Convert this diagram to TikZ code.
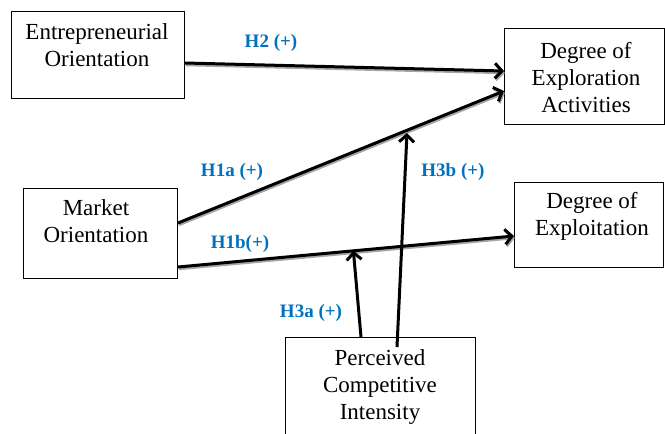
\documentclass[tikz,border=0pt]{standalone}
\usepackage{fontspec}
\setmainfont{Liberation Serif}
\usetikzlibrary{arrows.meta}
\definecolor{hblue}{RGB}{0,112,192}
\begin{document}
\begin{tikzpicture}[x=1pt,y=-1pt,
  box/.style={draw=black, line width=1pt, anchor=north west, inner sep=0pt},
  txt/.style={anchor=north, align=center, inner sep=0pt, font=\fontsize{23}{27}\selectfont},
  hlab/.style={text=hblue, font=\fontsize{19}{21}\selectfont\bfseries, inner sep=0pt},
  arr/.style={line width=3pt, -{Straight Barb[length=7pt,width=15pt]}},
  shad/.style={preaction={draw=gray!70, line width=2.5pt, transform canvas={shift={(0.8pt,-2pt)}}}}
]
\useasboundingbox (0,0) rectangle (665,434);
\clip (0,0) rectangle (665,434);
% boxes
\node[box, minimum width=173pt, minimum height=87pt] (eo) at (11,11) {};
\node[box, minimum width=160pt, minimum height=96pt] (expl) at (504,28) {};
\node[box, minimum width=154pt, minimum height=90pt] (mo) at (23,188) {};
\node[box, minimum width=149pt, minimum height=85pt] (exploit) at (514,182) {};
\node[box, minimum width=190pt, minimum height=110pt] (pci) at (285,337) {};
% texts
\node[txt] (eoT) at (97,23) {Entrepreneurial\\Orientation};
\node[txt] (explT) at (586,42) {Degree of\\Exploration\\Activities};
\node[txt] (moT) at (96,199) {Market\\Orientation};
\node[txt] (exploitT) at (592,192) {Degree of\\Exploitation};
\node[txt] (pciT) at (380,349) {Perceived\\Competitive\\Intensity};
% connectors
\draw[arr, shad] (eo.east |- 0,63) -- (expl.west |- 0,71);
\draw[arr, shad] (mo.east |- 0,223) -- (expl.west |- 0,91);
\draw[arr, shad] (mo.east |- 0,267) -- (exploit.west |- 0,236)
  coordinate[pos=0.522] (m3a);
\draw[arr] (pci.north -| 361,0) -- (m3a);
\coordinate (s3b) at (397,347);
\coordinate (e3b) at (407,133);
\draw[arr] (s3b) -- (e3b);
% labels
\node[hlab] (l2) at (271,43) {H2 (+)};
\node[hlab] (l1a) at (232,172) {H1a (+)};
\node[hlab] (l3b) at (453,172) {H3b (+)};
\node[hlab] (l1b) at (240,244) {H1b(+)};
\node[hlab] (l3a) at (311,313) {H3a (+)};
\end{tikzpicture}
\end{document}
